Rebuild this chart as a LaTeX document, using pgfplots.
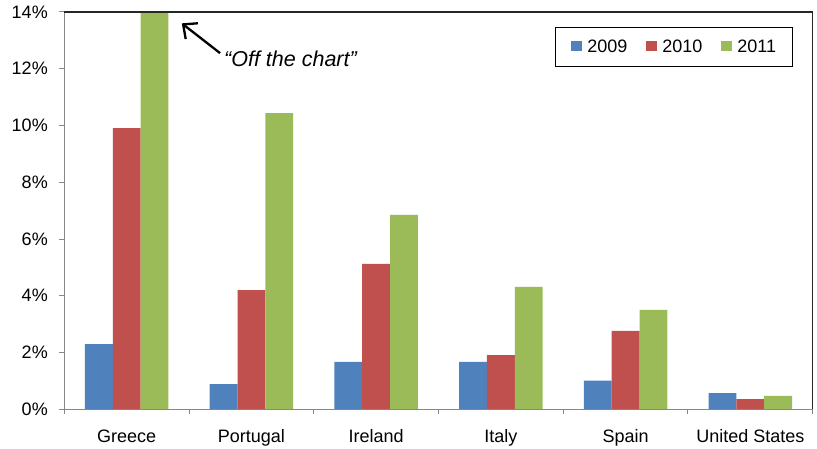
\documentclass[border=0pt]{standalone}
\usepackage{fontspec}
\setmainfont{Liberation Sans}
\usepackage{pgfplots}
\pgfplotsset{compat=1.18}
\usetikzlibrary{arrows.meta}

\definecolor{cBlue}{HTML}{4F81BD}
\definecolor{cRed}{HTML}{C0504D}
\definecolor{cGreen}{HTML}{9BBB59}
\definecolor{axgray}{HTML}{878787}

\newcommand{\lblfont}{\fontsize{18pt}{21pt}\selectfont}

\begin{document}
\begin{tikzpicture}
\useasboundingbox (-64.3pt,-39.7pt) rectangle (752.7pt,409.3pt);
\begin{axis}[
  at={(0pt,0pt)}, anchor=south west,
  scale only axis,
  width=748.4pt, height=397.3pt,
  ybar=0pt, bar width=27.8pt,
  xmin=-0.5, xmax=5.5,
  ymin=0, ymax=14,
  ytick={0,2,...,14},
  yticklabel={\pgfmathprintnumber{\tick}\%},
  /pgf/number format/assume math mode=true,
  xtick={-0.5,0.5,...,5.5},
  xticklabels={},
  extra x ticks={0,1,2,3,4,5},
  extra x tick labels={Greece,Portugal,Ireland,Italy,Spain,United States},
  extra x tick style={major tick length=0pt},
  tick align=outside,
  tick pos=left,
  major tick length=5pt,
  tick style={axgray, line width=1pt},
  axis line style={draw=none},
  ticklabel style={font=\lblfont, text=black},
  yticklabel style={xshift=-8pt},
  xticklabel style={yshift=-17pt},
  legend columns=3,
  legend style={
    at={(0.9733,0.963)}, anchor=north east,
    draw=black, line width=1.2pt,
    font=\lblfont,
    nodes={inner sep=0pt},
    inner xsep=16pt, inner ysep=12.5pt,
    /tikz/every odd column/.append style={column sep=5pt},
    /tikz/every even column/.append style={column sep=19pt},
  },
  legend image code/.code={\fill[#1] (0pt,-4pt) rectangle (11pt,5.5pt);},
  clip=false,
]
\addplot[fill=cBlue, draw=none] coordinates {
  (0,2.30) (1,0.89) (2,1.67) (3,1.67) (4,1.01) (5,0.57)};
\addplot[fill=cRed, draw=none] coordinates {
  (0,9.91) (1,4.20) (2,5.12) (3,1.91) (4,2.76) (5,0.36)};
\addplot[fill=cGreen, draw=none] coordinates {
  (0,14.00) (1,10.44) (2,6.85) (3,4.31) (4,3.50) (5,0.47)};
\legend{2009,2010,2011}

% plot frame: grey axes at left and bottom, dark border at top and right
\draw[axgray, line width=1.3pt] (rel axis cs:0,1) -- (rel axis cs:0,0) -- (rel axis cs:1,0);
\draw[black!85, line width=1.1pt] (rel axis cs:0,1) -- (rel axis cs:1,1) -- (rel axis cs:1,0);

% annotation for the clipped Greek bar
\draw[line width=2.3pt, -{Straight Barb[length=11pt,width=20pt]}] (axis cs:0.749,12.55) -- (axis cs:0.442,13.60);
\node[font=\fontsize{21.5pt}{25pt}\selectfont\itshape, anchor=west, inner sep=0pt] at (axis cs:0.78,12.34) {``Off the chart''};
\end{axis}
\end{tikzpicture}
\end{document}
